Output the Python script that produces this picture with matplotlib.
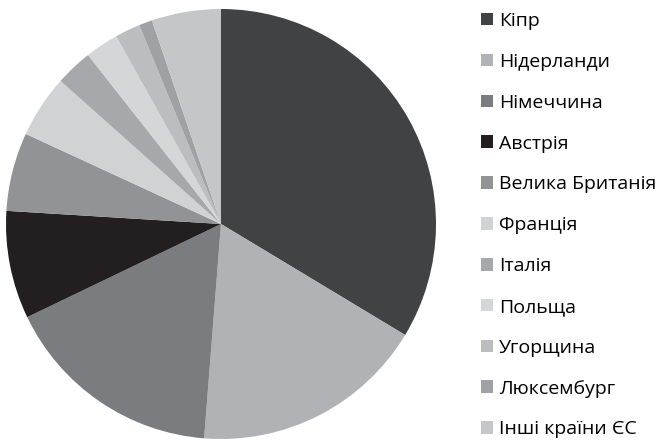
import matplotlib.pyplot as plt

labels = ['Кіпр', 'Нідерланди', 'Німеччина', 'Австрія', 'Велика Британія',
          'Франція', 'Італія', 'Польща', 'Угорщина', 'Люксембург', 'Інші країни ЄС']
shares = [33.6, 17.6, 16.6, 8.1, 5.9, 4.7, 2.8, 2.5, 1.9, 1.0, 5.2]
colors = ['#414244', '#b1b2b6', '#7b7c80', '#231f20', '#929396', '#d1d2d4',
          '#a7a8ab', '#d5d6d8', '#bcbdc0', '#a0a1a4', '#c5c6c8']

plt.rcParams['font.family'] = ['Open Sans', 'DejaVu Sans']

fig = plt.figure(figsize=(6.56, 4.42), dpi=100)
ax = fig.add_axes([6 / 656, 3 / 442, 430 / 656, 430 / 442])
wedges, _ = ax.pie(shares, colors=colors, startangle=90, counterclock=False,
                   radius=1.0, wedgeprops=dict(linewidth=0))
ax.set_xlim(-1, 1)
ax.set_ylim(-1, 1)
ax.set_aspect('equal')

fig.legend(wedges, labels, loc='upper left', bbox_to_anchor=(481 / 656, 1 - 12 / 442),
           frameon=False, fontsize=14, handlelength=0.62, handleheight=0.62,
           handletextpad=0.3, labelspacing=1.175, borderpad=0, borderaxespad=0)

fig.savefig('out.png', dpi=100)
